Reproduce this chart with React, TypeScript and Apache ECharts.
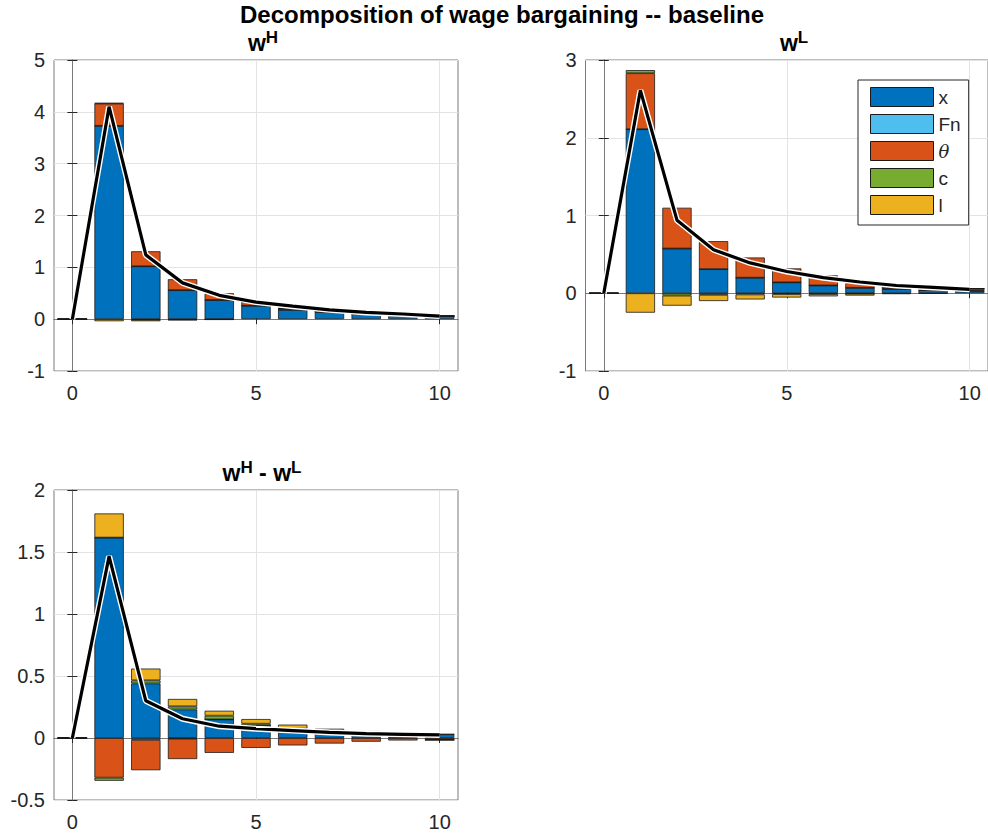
import React, { useEffect, useRef } from 'react';
import * as echarts from 'echarts';

// ---------- data ----------
const steps = ['0', '1', '2', '3', '4', '5', '6', '7', '8', '9', '10'];
const xTickValues = [0, 5, 10];
const componentNames = ['x', 'Fn', 'θ', 'c', 'l'];
const componentColors = ['#0072BD', '#4DBEEE', '#D95319', '#77AC30', '#EDB120'];

// w^H
const wH_x = [0, 3.73, 1.02, 0.56, 0.37, 0.26, 0.18, 0.14, 0.10, 0.07, 0.06];
const wH_Fn = [0, 0, 0, 0, 0, 0, 0, 0, 0, 0, 0];
const wH_theta = [0, 0.43, 0.29, 0.21, 0.13, 0.07, 0.03, 0.01, 0.005, 0, 0];
const wH_c = [0, 0.01, -0.01, -0.01, -0.005, 0, 0, 0, 0, 0, 0];
const wH_l = [0, -0.04, -0.03, -0.01, -0.005, 0, 0, 0, 0, 0, 0];
const wH_total = [0, 4.10, 1.24, 0.70, 0.46, 0.33, 0.25, 0.18, 0.13, 0.10, 0.06];

// w^L
const wL_x = [0, 2.11, 0.575, 0.31, 0.20, 0.14, 0.10, 0.07, 0.055, 0.04, 0.03];
const wL_Fn = [0, 0, 0, 0, 0, 0, 0, 0, 0, 0, 0];
const wL_theta = [0, 0.72, 0.525, 0.36, 0.26, 0.18, 0.13, 0.06, 0.02, 0.01, 0.03];
const wL_c = [0, 0.04, -0.03, -0.02, -0.015, -0.01, -0.01, -0.005, 0, 0, 0];
const wL_l = [0, -0.25, -0.13, -0.08, -0.065, -0.045, -0.03, -0.025, -0.01, -0.005, 0];
const wL_total = [0, 2.61, 0.94, 0.56, 0.39, 0.28, 0.20, 0.145, 0.10, 0.075, 0.05];

// w^H - w^L
const wHL_x = [0, 1.616, 0.44, 0.23, 0.15, 0.10, 0.06, 0.035, 0.02, 0.01, 0.03];
const wHL_Fn = [0, 0, -0.015, -0.005, 0, 0, 0, 0, 0, 0, 0];
const wHL_theta = [0, -0.32, -0.245, -0.165, -0.12, -0.08, -0.06, -0.045, -0.03, -0.02, -0.015];
const wHL_c = [0, -0.025, 0.025, 0.025, 0.03, 0.015, 0.015, 0.01, 0.01, 0.005, 0];
const wHL_l = [0, 0.195, 0.095, 0.06, 0.04, 0.038, 0.033, 0.03, 0.026, 0.005, 0];
const wHL_total = [0, 1.465, 0.30, 0.155, 0.095, 0.075, 0.06, 0.045, 0.035, 0.03, 0.025];

const mainTitle = 'Decomposition of wage bargaining -- baseline';

// ---------- layout ----------
const FONT = 'Liberation Sans, Arial, Helvetica, sans-serif';
const AXIS_COLOR = '#262626';
const BOX_COLOR = '#7a7a7a';
const GRID_COLOR = '#e3e3e3';
const TICK_FONT = 20;

const panels = [
  { title: '{w|w}{s|H}', comps: [wH_x, wH_Fn, wH_theta, wH_c, wH_l], total: wH_total, yMin: -1, yMax: 5, yInt: 1,
    grid: { left: 54, top: 60, width: 404, height: 311 }, titlePos: { left: 258, top: 24 } },
  { title: '{w|w}{s|L}', comps: [wL_x, wL_Fn, wL_theta, wL_c, wL_l], total: wL_total, yMin: -1, yMax: 3, yInt: 1,
    grid: { left: 585.5, top: 60, width: 405.5, height: 311 }, titlePos: { left: 789, top: 24 } },
  { title: '{w|w}{s|H}{w| - w}{s|L}', comps: [wHL_x, wHL_Fn, wHL_theta, wHL_c, wHL_l], total: wHL_total, yMin: -0.5, yMax: 2, yInt: 0.5,
    grid: { left: 54, top: 490, width: 404, height: 310 }, titlePos: { left: 257, top: 454 } },
];

function buildOption() {
  const grids: any[] = [];
  const xAxes: any[] = [];
  const yAxes: any[] = [];
  const series: any[] = [];
  const titles: any[] = [
    {
      text: mainTitle,
      left: 497,
      top: -3,
      textAlign: 'center',
      textStyle: { fontFamily: FONT, fontSize: 24, fontWeight: 'bold', color: '#000' },
    },
  ];

  panels.forEach((p, pi) => {
    grids.push({ ...p.grid, show: true, borderColor: BOX_COLOR, borderWidth: 1, backgroundColor: '#fff' });
    titles.push({
      text: p.title,
      left: p.titlePos.left,
      top: p.titlePos.top,
      textAlign: 'center',
      textStyle: {
        rich: {
          w: { fontFamily: FONT, fontSize: 23, fontWeight: 'bold', color: '#000' },
          s: { fontFamily: FONT, fontSize: 17, fontWeight: 'bold', color: '#000', padding: [0, 0, 10, 0] },
        },
      },
    });
    const common = {
      type: 'value',
      gridIndex: pi,
      min: -0.5,
      max: 10.5,
      axisLine: { show: true, lineStyle: { color: BOX_COLOR, width: 1 } },
      axisTick: { show: true, inside: true, length: 5, customValues: xTickValues, lineStyle: { color: AXIS_COLOR } },
    };
    const base = xAxes.length;
    xAxes.push({
      ...common,
      position: 'bottom',
      axisLabel: { show: true, customValues: xTickValues, color: AXIS_COLOR, fontFamily: FONT, fontSize: TICK_FONT, margin: 12 },
      splitLine: { show: true, lineStyle: { color: GRID_COLOR, width: 1 } },
    });
    xAxes.push({
      ...common,
      position: 'top',
      axisLabel: { show: false },
      splitLine: { show: false },
    });
    xAxes.push({
      type: 'category',
      gridIndex: pi,
      data: steps,
      boundaryGap: true,
      show: false,
    });
    const catIndex = base + 2;
    const ycommon = {
      type: 'value',
      gridIndex: pi,
      min: p.yMin,
      max: p.yMax,
      interval: p.yInt,
      axisLine: { show: true, lineStyle: { color: BOX_COLOR, width: 1 } },
      axisTick: { show: true, inside: true, length: 5, lineStyle: { color: AXIS_COLOR } },
    };
    yAxes.push({
      ...ycommon,
      position: 'left',
      axisLabel: { show: true, color: AXIS_COLOR, fontFamily: FONT, fontSize: TICK_FONT, margin: 9 },
      splitLine: { show: true, lineStyle: { color: GRID_COLOR, width: 1 } },
    });
    yAxes.push({
      ...ycommon,
      position: 'right',
      axisLabel: { show: false },
      splitLine: { show: false },
    });

    p.comps.forEach((vals, ci) => {
      series.push({
        type: 'bar',
        name: componentNames[ci],
        xAxisIndex: catIndex,
        yAxisIndex: pi * 2,
        stack: 'panel' + pi,
        barWidth: '80%',
        z: 2,
        itemStyle: { color: componentColors[ci], borderColor: '#1a1a1a', borderWidth: 0.8 },
        data: vals,
      });
    });
    series.push({
      type: 'line',
      name: 'total-outline' + pi,
      xAxisIndex: catIndex,
      yAxisIndex: pi * 2,
      z: 5,
      showSymbol: false,
      symbol: 'none',
      lineStyle: { color: '#ffffff', width: 6 },
      data: p.total,
    });
    series.push({
      type: 'line',
      name: 'total' + pi,
      xAxisIndex: catIndex,
      yAxisIndex: pi * 2,
      z: 6,
      showSymbol: false,
      symbol: 'none',
      lineStyle: { color: '#000000', width: 3.2 },
      data: p.total,
    });
  });

  return {
    animation: false,
    backgroundColor: '#ffffff',
    title: titles,
    grid: grids,
    xAxis: xAxes,
    yAxis: yAxes,
    legend: {
      data: componentNames,
      orient: 'vertical',
      left: 858,
      top: 80,
      itemWidth: 63,
      itemHeight: 19,
      itemGap: 7,
      padding: [7, 8, 10, 12],
      backgroundColor: '#ffffff',
      borderColor: '#262626',
      borderWidth: 1,
      borderRadius: 0,
      icon: 'rect',
      selectedMode: false,
      itemStyle: { borderColor: '#1a1a1a', borderWidth: 1 },
      formatter: (name: string) => (name === 'θ' ? '{t|θ}' : name),
      textStyle: {
        fontFamily: FONT,
        fontSize: 19,
        color: '#262626',
        rich: { t: { fontFamily: 'DejaVu Serif, serif', fontStyle: 'italic', fontSize: 18, color: '#262626' } },
      },
    },
    series,
  };
}

export default function App() {
  const ref = useRef<HTMLDivElement>(null);
  useEffect(() => {
    if (!ref.current) return;
    const chart = echarts.init(ref.current, undefined, { renderer: 'svg' });
    chart.setOption(buildOption() as any);
    return () => chart.dispose();
  }, []);
  return <div ref={ref} style={{ position: 'fixed', left: 0, top: 0, width: 988, height: 838 }} />;
}
